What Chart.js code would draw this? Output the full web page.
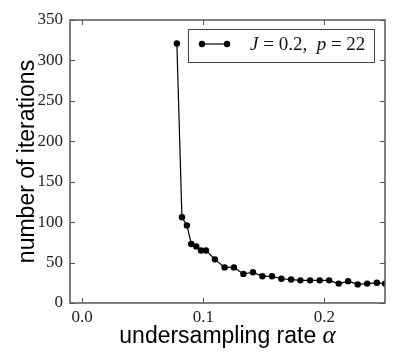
<!DOCTYPE html>
<html>
<head>
<meta charset="utf-8">
<script src="https://cdn.jsdelivr.net/npm/chart.js@4.4.0/dist/chart.umd.min.js"></script>
<style>
  html, body { margin: 0; padding: 0; background: #fff; }
  #wrap { width: 399px; height: 363px; }
</style>
</head>
<body>
<div id="wrap"><canvas id="iterChart" width="399" height="363"></canvas></div>
<script>
// undersampling rate (alpha) and number of iterations
const alphaValues = [0.0782, 0.0824, 0.0865, 0.0901, 0.0942, 0.0981, 0.1022, 0.1096, 0.1176, 0.1253,
  0.1331, 0.1410, 0.1488, 0.1567, 0.1645, 0.1725, 0.1802, 0.1882, 0.1961, 0.2039,
  0.2118, 0.2196, 0.2275, 0.2353, 0.2433, 0.2500];
const iterations = [321, 106, 96, 73, 70, 65, 65, 54, 44, 44,
  36, 38, 33, 33, 30, 29, 28, 28, 28, 28,
  24, 27, 23, 24, 25, 24];

const xTickValues = [0.0, 0.1, 0.2];
const yTickValues = [0, 50, 100, 150, 200, 250, 300, 350];

// x title pieces: [text, math italic?]
const xTitleParts = [['undersampling rate ', false], ['α', true]];
const yTitle = 'number of iterations';
// legend label pieces: [text, math italic?]
const legendParts = [['J', true], [' = 0.2,  ', false], ['p', true], [' = 22', false]];

const serif = '"Liberation Serif", "DejaVu Serif", serif';
const sans = '"Liberation Sans", Arial, sans-serif';

// matplotlib style frame with inward ticks on all four sides
const frameTicks = {
  id: 'frameTicks',
  afterDatasetsDraw(chart) {
    const { ctx, chartArea: a, scales } = chart;
    ctx.save();
    ctx.strokeStyle = '#555';
    ctx.lineWidth = 1;
    ctx.beginPath();
    xTickValues.forEach(v => {
      const px = Math.round(scales.x.getPixelForValue(v)) + 0.5;
      ctx.moveTo(px, a.bottom); ctx.lineTo(px, a.bottom - 5);
      ctx.moveTo(px, a.top); ctx.lineTo(px, a.top + 5);
    });
    yTickValues.forEach(v => {
      const py = Math.round(scales.y.getPixelForValue(v)) + 0.5;
      ctx.moveTo(a.left, py); ctx.lineTo(a.left + 5, py);
      ctx.moveTo(a.right, py); ctx.lineTo(a.right - 5, py);
    });
    ctx.stroke();
    ctx.lineWidth = 1.5;
    ctx.strokeStyle = '#555';
    ctx.strokeRect(a.left, a.top, a.right - a.left, a.bottom - a.top);
    ctx.restore();
  }
};

// draws mixed upright / italic text pieces starting at x
function drawPieces(ctx, parts, x, y, upFont, itFont) {
  parts.forEach(([txt, italic]) => {
    ctx.font = italic ? itFont : upFont;
    ctx.fillText(txt, x, y);
    x += ctx.measureText(txt).width;
  });
}

function piecesWidth(ctx, parts, upFont, itFont) {
  return parts.reduce((sum, [txt, italic]) => {
    ctx.font = italic ? itFont : upFont;
    return sum + ctx.measureText(txt).width;
  }, 0);
}

const xTitlePlugin = {
  id: 'xTitlePlugin',
  afterDraw(chart) {
    const { ctx, chartArea: a } = chart;
    const up = '23px ' + sans, it = 'italic 25px ' + serif;
    ctx.save();
    ctx.fillStyle = '#000';
    ctx.textBaseline = 'alphabetic';
    const w = piecesWidth(ctx, xTitleParts, up, it);
    drawPieces(ctx, xTitleParts, (a.left + a.right) / 2 - w / 2, 343, up, it);
    ctx.restore();
  }
};

const legendBox = {
  id: 'legendBox',
  afterDraw(chart) {
    const { ctx, chartArea: a } = chart;
    const w = 186, h = 33;
    const x0 = a.right - 11 - w, y0 = a.top + 9;
    ctx.save();
    ctx.fillStyle = '#fff';
    ctx.fillRect(x0, y0, w, h);
    ctx.strokeStyle = '#444';
    ctx.lineWidth = 1;
    ctx.strokeRect(x0 + 0.5, y0 + 0.5, w, h);

    const cy = y0 + 15;
    ctx.strokeStyle = '#000';
    ctx.lineWidth = 1.2;
    ctx.beginPath();
    ctx.moveTo(x0 + 14, cy); ctx.lineTo(x0 + 39, cy);
    ctx.stroke();
    ctx.fillStyle = '#000';
    [x0 + 14, x0 + 39].forEach(px => {
      ctx.beginPath(); ctx.arc(px, cy, 3.2, 0, Math.PI * 2); ctx.fill();
    });

    ctx.textBaseline = 'alphabetic';
    ctx.fillStyle = '#111';
    drawPieces(ctx, legendParts, x0 + 62, cy + 6, '19px ' + serif, 'italic 19px ' + serif);
    ctx.restore();
  }
};

const config = {
  type: 'line',
  data: {
    datasets: [{
      label: 'J = 0.2, p = 22',
      data: alphaValues.map((a, i) => ({ x: a, y: iterations[i] })),
      borderColor: '#000',
      backgroundColor: '#000',
      borderWidth: 1.2,
      pointRadius: 3.2,
      pointBackgroundColor: '#000',
      pointBorderWidth: 0,
      tension: 0,
      clip: 0
    }]
  },
  options: {
    responsive: false,
    animation: false,
    layout: { padding: { top: 20, right: 14, left: 0, bottom: 0 } },
    plugins: {
      legend: { display: false },
      tooltip: { enabled: false }
    },
    scales: {
      x: {
        type: 'linear',
        min: -0.01,
        max: 0.25,
        afterBuildTicks: s => { s.ticks = xTickValues.map(v => ({ value: v })); },
        afterFit: s => { s.height = 60; },
        grid: { display: false, drawTicks: false },
        border: { display: false },
        ticks: {
          padding: 4,
          color: '#222',
          font: { family: serif, size: 17 },
          callback: v => v.toFixed(1)
        }
      },
      y: {
        min: 0,
        max: 350,
        afterBuildTicks: s => { s.ticks = yTickValues.map(v => ({ value: v })); },
        afterFit: s => { s.width = 70; },
        grid: { display: false, drawTicks: false },
        border: { display: false },
        ticks: {
          padding: 7,
          color: '#222',
          font: { family: serif, size: 17 }
        },
        title: {
          display: true,
          text: yTitle,
          color: '#000',
          font: { family: sans, size: 23 },
          padding: { top: 14, bottom: 0 }
        }
      }
    }
  },
  plugins: [frameTicks, xTitlePlugin, legendBox]
};

new Chart(document.getElementById('iterChart').getContext('2d'), config);
</script>
</body>
</html>
